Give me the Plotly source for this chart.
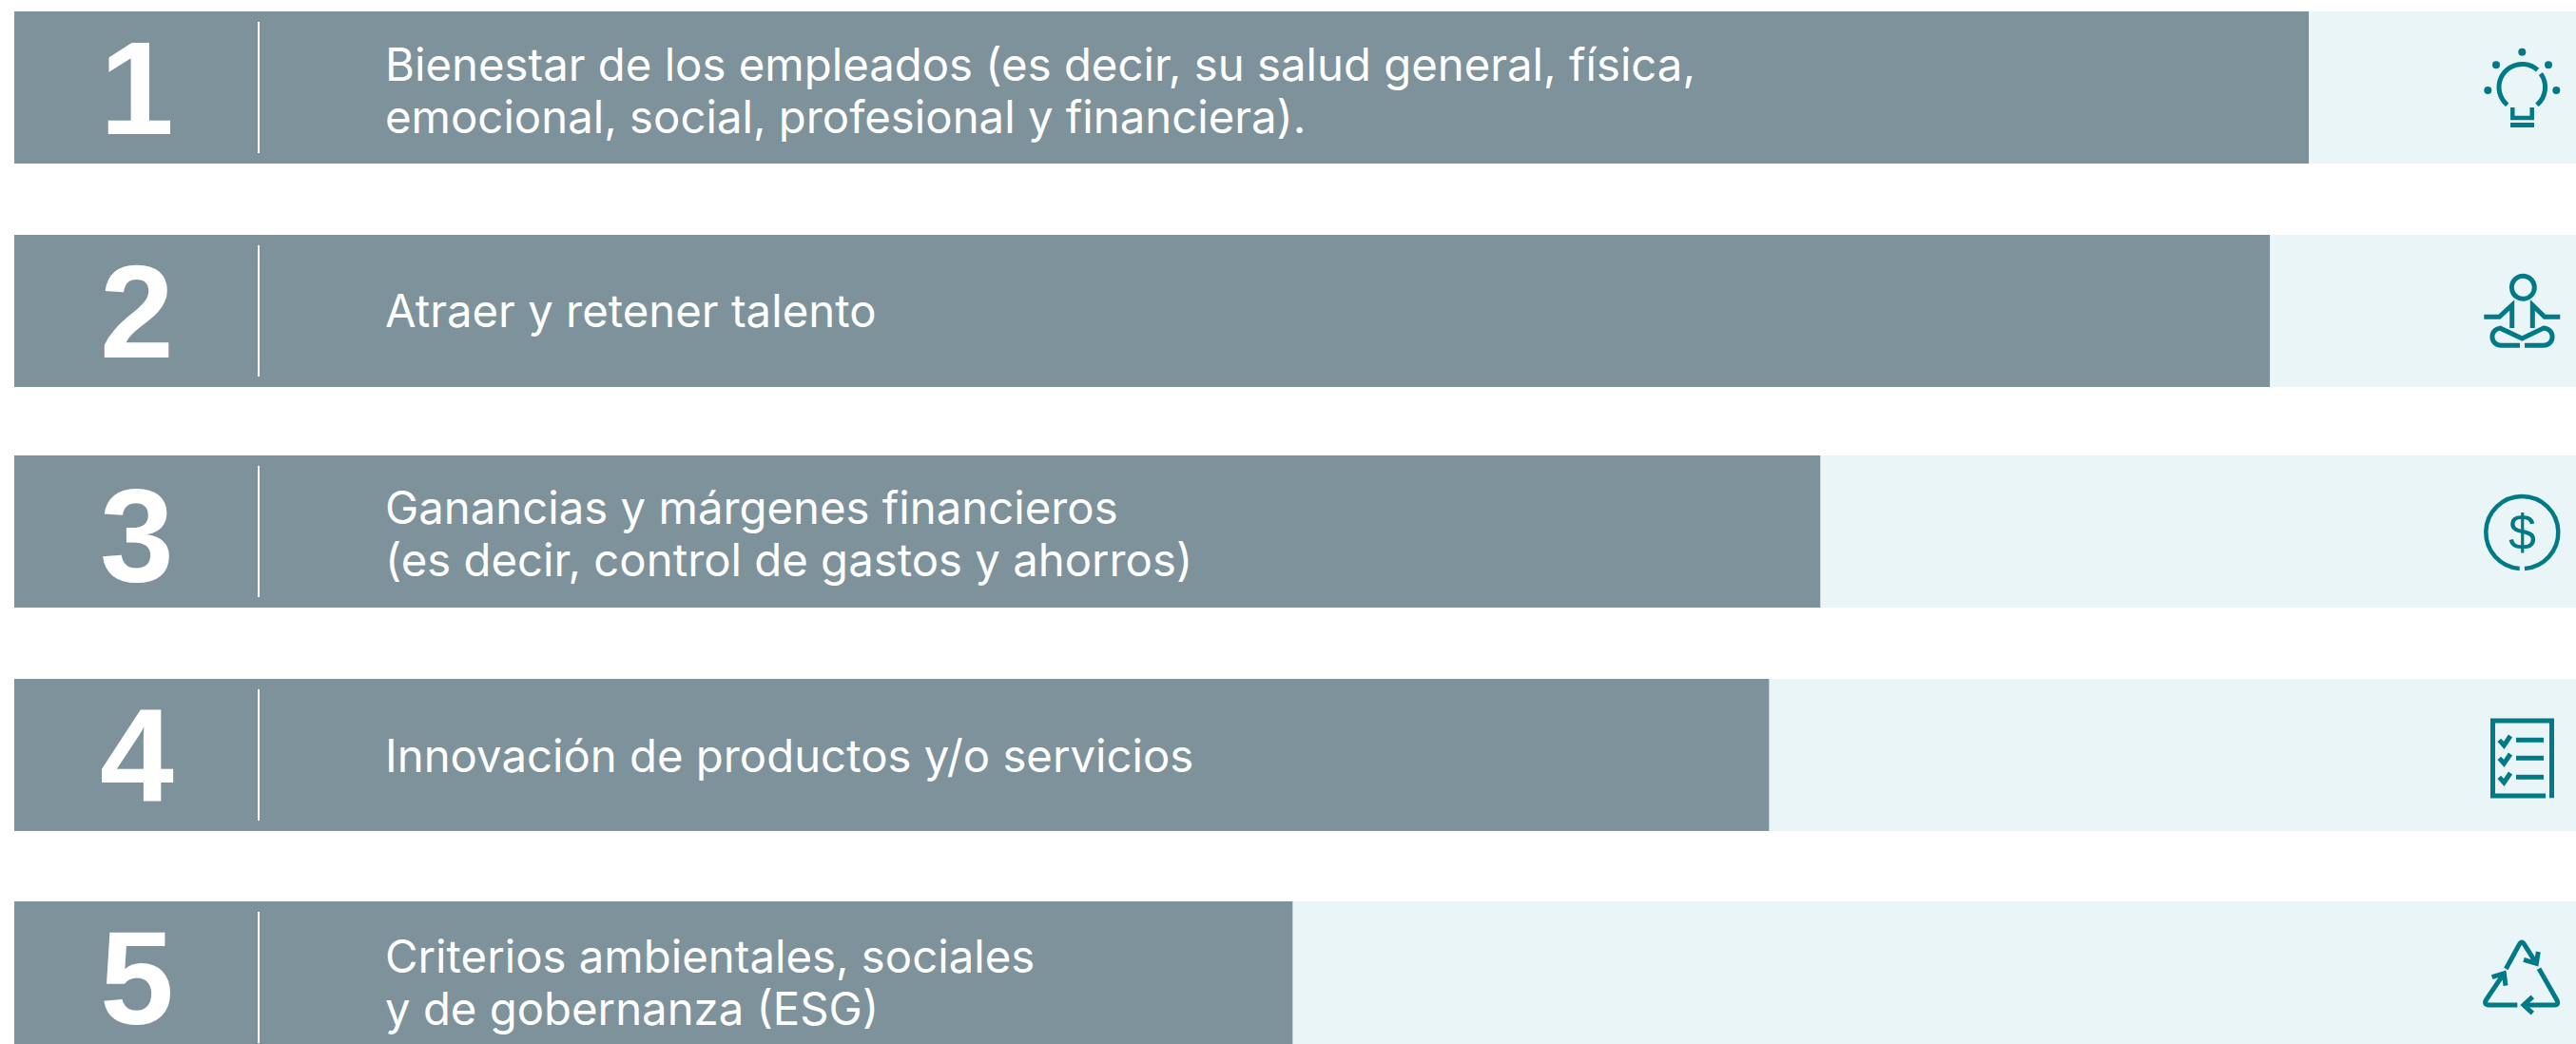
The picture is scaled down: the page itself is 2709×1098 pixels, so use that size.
import math
import plotly.graph_objects as go

# ---- data ----
ranks = ["1", "2", "3", "4", "5"]
label_lines = [
    ["Bienestar de los empleados (es decir, su salud general, física,",
     "emocional, social, profesional y financiera)."],
    ["Atraer y retener talento"],
    ["Ganancias y márgenes financieros",
     "(es decir, control de gastos y ahorros)"],
    ["Innovación de productos y/o servicios"],
    ["Criterios ambientales, sociales",
     "y de gobernanza (ESG)"],
]
values = [89.57, 88.05, 70.5, 68.5, 49.9]
full_scale = [100, 100, 100, 100, 100]

# ---- layout constants (pixels of the 2709x1098 page) ----
W, H = 2709, 1098
row_centre = [92, 327, 559, 794, 1028]
text_centre = [94.5, 326, 560.5, 794, 1033]
digit_centre = [92, 327, 562, 794, 1028]
row_height = 160
bar_left = 15
GREY, PALE, TEAL = "#7D929B", "#EAF5F7", "#007A87"
TEXT_FONT = "Inter"
DIGIT_FONT = "Liberation Sans"
TEXT_SIZE = 47.3
DIGIT_SIZE = 140
ICON_W = 5


def px(x):
    return x / W


def py(y):
    return 1 - y / H


def arc_cmds(cx, cy, r, a0, a1):
    """Bezier segments of an arc; angles in degrees, screen coordinates (y down)."""
    n = max(1, int(abs(a1 - a0) // 45) + 1)
    step = math.radians((a1 - a0) / n)
    k = 4 / 3 * math.tan(step / 4)
    cmds = []
    a = math.radians(a0)
    for _ in range(n):
        b = a + step
        cmds.append(("C",
                     cx + r * (math.cos(a) - k * math.sin(a)), cy + r * (math.sin(a) + k * math.cos(a)),
                     cx + r * (math.cos(b) + k * math.sin(b)), cy + r * (math.sin(b) - k * math.cos(b)),
                     cx + r * math.cos(b), cy + r * math.sin(b)))
        a = b
    return cmds


def arc_start(cx, cy, r, a0):
    return ("M", cx + r * math.cos(math.radians(a0)), cy + r * math.sin(math.radians(a0)))


def path(*cmds):
    out = []
    for c in cmds:
        if c[0] == "Z":
            out.append("Z")
            continue
        pts = [f"{px(c[i]):.6f},{py(c[i + 1]):.6f}" for i in range(1, len(c), 2)]
        out.append(c[0] + " ".join(pts))
    return " ".join(out)


def stroke(d, w=ICON_W):
    return dict(type="path", xref="paper", yref="paper", path=d,
                line=dict(color=TEAL, width=w), layer="above")


def arc_shape(cx, cy, r, a0, a1, w=ICON_W):
    return stroke(path(arc_start(cx, cy, r, a0), *arc_cmds(cx, cy, r, a0, a1)), w)


def solid_circle(cx, cy, r):
    return dict(type="circle", xref="paper", yref="paper", x0=px(cx - r), x1=px(cx + r),
                y0=py(cy + r), y1=py(cy - r), fillcolor=TEAL, line=dict(width=0), layer="above")


def poly(points, w=ICON_W):
    cmds = [("M",) + points[0]] + [("L",) + p for p in points[1:]]
    return stroke(path(*cmds), w)


shapes = []

# row dividers
divider_half = 69
for c in row_centre:
    shapes.append(dict(type="line", xref="paper", yref="paper", x0=px(272), x1=px(272),
                       y0=py(c - divider_half), y1=py(min(c + divider_half, H)),
                       line=dict(color="white", width=2), layer="above"))

# light bulb
for cx, cy in [(2652.3, 54.7), (2625, 68.3), (2680, 68.3), (2616.3, 95), (2688.3, 95)]:
    shapes.append(solid_circle(cx, cy, 4))
shapes.append(arc_shape(2652.3, 91.7, 24.3, 130, 312))
shapes.append(arc_shape(2652.3, 91.7, 24.3, 324, 410))
shapes.append(poly([(2642.3, 113), (2642.3, 124), (2662.7, 124), (2662.7, 113)], 4.5))
shapes.append(poly([(2640, 131.5), (2665, 131.5)], 5))

# meditating figure
shapes.append(arc_shape(2653.3, 302.3, 12, 0, 360))
shapes.append(poly([(2612.3, 333.3), (2628.3, 333.3), (2641.7, 321), (2641.7, 345)]))
shapes.append(poly([(2692.3, 333.3), (2676, 333.3), (2663.3, 321), (2663.3, 345)]))
shapes.append(stroke(path(
    ("M", 2650, 363.3), ("L", 2630, 363.3),
    *arc_cmds(2630, 354.2, 9.1, 90, 265),
    ("L", 2652.3, 356), ("L", 2675, 345),
    *arc_cmds(2675, 354.2, 9.1, -85, 90),
    ("L", 2655, 363.3))))

# dollar coin
shapes.append(arc_shape(2652.3, 560, 38, 94, 446, 4.5))

# checklist
shapes.append(poly([(2677, 837), (2621.5, 837), (2621.5, 758), (2683.5, 758), (2683.5, 839.3)]))
for y in [778.3, 797.3, 817.3]:
    shapes.append(poly([(2646, y), (2675, y)], 5))
    shapes.append(poly([(2628.3, y), (2633.3, y + 5.7), (2640, y - 4.3)]))


def rc(X, Y):
    return (2450 + X / 3, 930 + Y / 3)


def rpath(*cmds):
    out = []
    for c in cmds:
        pts = []
        for i in range(1, len(c), 2):
            pts.extend(rc(c[i], c[i + 1]))
        out.append((c[0], *pts))
    return stroke(path(*out))


# recycling triangle
shapes.append(rpath(("M", 556, 267), ("L", 598, 190), ("Q", 606, 176, 614, 190), ("L", 652, 250)))
shapes.append(rpath(("M", 658, 213), ("L", 652, 250), ("L", 612, 238)))
shapes.append(rpath(("M", 660, 266), ("L", 715, 362), ("Q", 726, 381, 708, 381), ("L", 612, 381)))
shapes.append(rpath(("M", 640, 355), ("L", 612, 381), ("L", 640, 407)))
shapes.append(rpath(("M", 592, 381), ("L", 504, 381), ("Q", 484, 381, 494, 364), ("L", 550, 281)))
shapes.append(rpath(("M", 512, 293), ("L", 550, 281), ("L", 555, 320)))

# annotations
annotations = []
for rank, c in zip(ranks, digit_centre):
    annotations.append(dict(xref="paper", yref="paper", x=px(143.5), y=py(c), text=f"<b>{rank}</b>",
                            showarrow=False, xanchor="center", yanchor="middle", height=140,
                            font=dict(family=DIGIT_FONT, size=DIGIT_SIZE, color="white")))
line_gap = 55
for lines, c in zip(label_lines, text_centre):
    first = c - line_gap / 2 * (len(lines) - 1)
    for i, t in enumerate(lines):
        annotations.append(dict(xref="paper", yref="paper", x=px(403), y=py(first + i * line_gap), text=t,
                                showarrow=False, xanchor="left", yanchor="middle",
                                font=dict(family=TEXT_FONT, size=TEXT_SIZE, color="white")))
annotations.append(dict(xref="paper", yref="paper", x=px(2652.3), y=py(560), text="$", showarrow=False,
                        xanchor="center", yanchor="middle",
                        font=dict(family=DIGIT_FONT, size=52, color=TEAL)))

fig = go.Figure()
fig.add_bar(y=row_centre, x=full_scale, orientation="h", width=row_height,
            marker=dict(color=PALE, line=dict(width=0)), hoverinfo="skip")
fig.add_bar(y=row_centre, x=values, orientation="h", width=row_height,
            marker=dict(color=GREY, line=dict(width=0)), hoverinfo="skip")
fig.update_layout(
    width=W, height=H, barmode="overlay", showlegend=False,
    margin=dict(l=0, r=0, t=0, b=0), paper_bgcolor="white", plot_bgcolor="white",
    xaxis=dict(range=[-bar_left / (W - bar_left) * 100, 100], visible=False, fixedrange=True),
    yaxis=dict(range=[H, 0], visible=False, fixedrange=True),
    shapes=shapes, annotations=annotations,
)
fig.write_html("out.html", config={"displayModeBar": False}, default_width=W, default_height=H,
               post_script="document.body.style.margin='0';document.documentElement.style.overflow='hidden';")
